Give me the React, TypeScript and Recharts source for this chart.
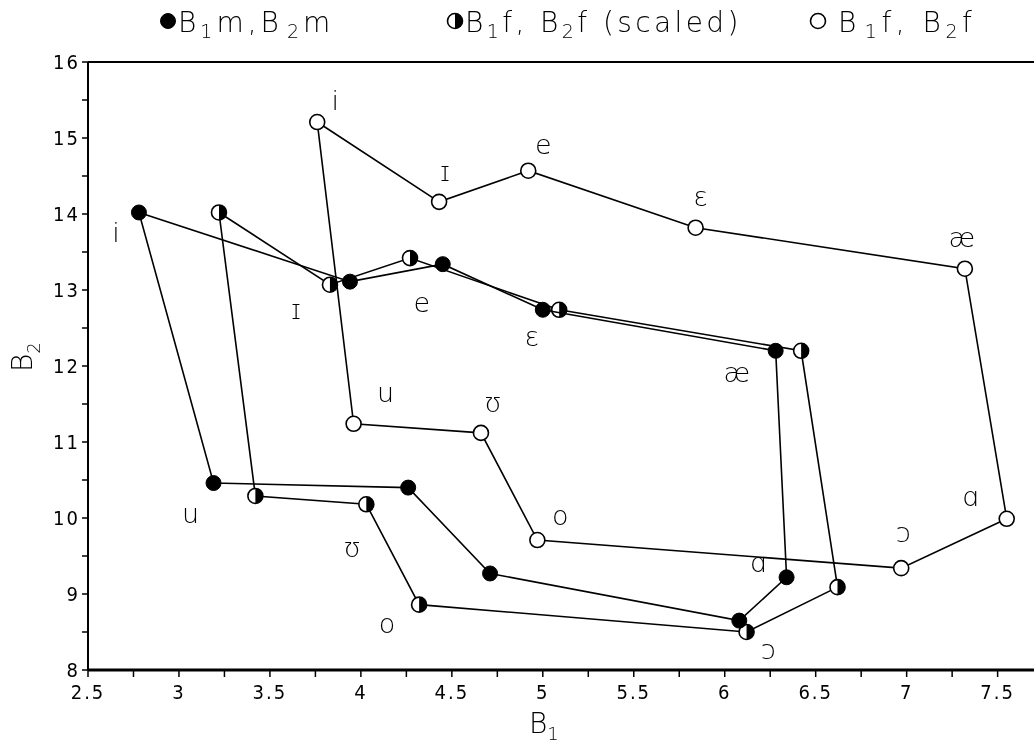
import React from 'react';
import { ScatterChart, Scatter, XAxis, YAxis, ReferenceLine } from 'recharts';

// ---- data ----
const vowels = ['i', 'ɪ', 'e', 'ɛ', 'æ', 'ɑ', 'ɔ', 'o', 'ʊ', 'u'];
const b1Male = [2.78, 3.94, 4.45, 5.0, 6.28, 6.34, 6.08, 4.71, 4.26, 3.19];
const b2Male = [14.02, 13.11, 13.34, 12.74, 12.2, 9.22, 8.65, 9.27, 10.4, 10.46];
const b1FemScaled = [3.22, 3.83, 4.27, 5.09, 6.42, 6.62, 6.12, 4.32, 4.03, 3.42];
const b2FemScaled = [14.02, 13.07, 13.42, 12.74, 12.2, 9.09, 8.5, 8.86, 10.18, 10.29];
const b1Fem = [3.76, 4.43, 4.92, 5.84, 7.32, 7.55, 6.97, 4.97, 4.66, 3.96];
const b2Fem = [15.21, 14.16, 14.57, 13.82, 13.28, 9.99, 9.34, 9.71, 11.12, 11.24];

const xTicks = [2.5, 2.75, 3, 3.25, 3.5, 3.75, 4, 4.25, 4.5, 4.75, 5, 5.25, 5.5, 5.75, 6, 6.25, 6.5, 6.75, 7, 7.25, 7.5];
const yTicks = [8, 8.5, 9, 9.5, 10, 10.5, 11, 11.5, 12, 12.5, 13, 13.5, 14, 14.5, 15, 15.5, 16];

// ---- label placement (pixel offsets from marker centre) ----
const maleLabelOffsets: [number, number][] = [
  [-23, 20], [-54, 28], [-21, 38], [-11, 27], [-39, 22],
  [-29, -15], [29, 29], [-103, 50], [-56, 60], [-23, 30],
];
const femLabelOffsets: [number, number][] = [
  [18, -22], [6, -30], [15, -26], [5, -31], [-3, -31],
  [-37, -22], [2, -36], [23, -25], [12, -30], [32, -31],
];

const FONT = "'DejaVu Sans', 'Liberation Sans', sans-serif";
const NARROW = "'DejaVu Sans Condensed', 'Liberation Sans Narrow', 'DejaVu Sans', sans-serif";
const R = 7.5;

type Pt = { x: number; y: number; v: string; i: number; close?: boolean };

const makeSeries = (xs: number[], ys: number[]): Pt[] => {
  const pts: Pt[] = vowels.map((v, i) => ({ x: xs[i], y: ys[i], v, i }));
  return [...pts, { ...pts[0], close: true }];
};

const maleData = makeSeries(b1Male, b2Male);
const scaledData = makeSeries(b1FemScaled, b2FemScaled);
const femData = makeSeries(b1Fem, b2Fem);

const Marker = ({ kind, cx, cy }: { kind: string; cx: number; cy: number }) => {
  if (kind === 'filled') return <circle cx={cx} cy={cy} r={R} fill="#000" stroke="#000" strokeWidth={1} />;
  if (kind === 'open') return <circle cx={cx} cy={cy} r={R} fill="#fff" stroke="#000" strokeWidth={1.6} />;
  return (
    <g>
      <circle cx={cx} cy={cy} r={R} fill="#fff" stroke="#000" strokeWidth={1.6} />
      <path d={`M${cx},${cy - R} A${R},${R} 0 0,1 ${cx},${cy + R} Z`} fill="#000" />
    </g>
  );
};

const makeShape = (kind: string, offsets: [number, number][] | null) => (props: any) => {
  const { cx, cy, payload } = props;
  if (cx == null || cy == null || !payload || payload.close) return <g />;
  const off = offsets ? offsets[payload.i] : null;
  return (
    <g>
      <Marker kind={kind} cx={cx} cy={cy} />
      {off && (
        <text
          x={cx + off[0]}
          y={cy + off[1]}
          textAnchor="middle"
          dominantBaseline="central"
          fontFamily={FONT}
          fontWeight={300}
          fontSize={27}
          fill="#000"
        >
          {payload.v}
        </text>
      )}
    </g>
  );
};

const fmt = (v: number) => (Number.isInteger(v * 2) ? String(v) : '');
const fmtY = (v: number) => (Number.isInteger(v) ? String(v) : '');

const lineStyle = { stroke: '#000', strokeWidth: 1.6 };
const tickStyle = { fill: '#000', fontSize: 20, fontFamily: NARROW, letterSpacing: 2 };
const legendText = { fontFamily: FONT, fontWeight: 300, fontSize: 28, fill: '#000' };

export default function App() {
  return (
    <div
      style={{
        position: 'absolute',
        left: 0,
        top: 0,
        width: 1035,
        height: 748,
        background: '#fff',
        filter: 'grayscale(1)',
      }}
    >
      <ScatterChart width={1035} height={748} margin={{ top: 62, right: 1, bottom: 0, left: 0 }}>
        <XAxis
          type="number"
          dataKey="x"
          domain={[2.5, 7.7]}
          ticks={xTicks}
          interval={0}
          tickFormatter={fmt}
          allowDataOverflow
          height={78}
          tickSize={7}
          tickMargin={8}
          axisLine={{ stroke: '#000', strokeWidth: 3 }}
          tickLine={{ stroke: '#000', strokeWidth: 1.5 }}
          tick={tickStyle}
        />
        <YAxis
          type="number"
          dataKey="y"
          domain={[8, 16]}
          ticks={yTicks}
          interval={0}
          tickFormatter={fmtY}
          allowDataOverflow
          width={88}
          tickSize={6}
          tickMargin={2}
          axisLine={{ stroke: '#000', strokeWidth: 2 }}
          tickLine={{ stroke: '#000', strokeWidth: 1.5 }}
          tick={tickStyle}
        />
        <ReferenceLine y={16} stroke="#000" strokeWidth={2} />
        <Scatter
          name="B1f, B2f"
          data={femData}
          line={lineStyle}
          lineType="joint"
          shape={makeShape('open', femLabelOffsets)}
          isAnimationActive={false}
        />
        <Scatter
          name="B1f, B2f (scaled)"
          data={scaledData}
          line={lineStyle}
          lineType="joint"
          shape={makeShape('half', null)}
          isAnimationActive={false}
        />
        <Scatter
          name="B1m, B2m"
          data={maleData}
          line={lineStyle}
          lineType="joint"
          shape={makeShape('filled', maleLabelOffsets)}
          isAnimationActive={false}
        />
      </ScatterChart>
      <svg
        width={1035}
        height={748}
        style={{ position: 'absolute', left: 0, top: 0, pointerEvents: 'none' }}
      >
        {/* legend */}
        <Marker kind="filled" cx={168} cy={21} />
        <text x={178} y={32} {...legendText} letterSpacing={4}>
          B<tspan dy={6} fontSize={19}>1</tspan>
          <tspan dy={-6}>m,B</tspan>
          <tspan dy={6} dx={4} fontSize={19}>2</tspan>
          <tspan dy={-6}>m</tspan>
        </text>
        <Marker kind="half" cx={455} cy={21} />
        <text x={465} y={32} {...legendText} letterSpacing={3.4}>
          B<tspan dy={6} fontSize={19}>1</tspan>
          <tspan dy={-6}>f, B</tspan>
          <tspan dy={6} fontSize={19}>2</tspan>
          <tspan dy={-6}>f (scaled)</tspan>
        </text>
        <Marker kind="open" cx={818} cy={21} />
        <text x={838} y={32} {...legendText} letterSpacing={4.5}>
          B<tspan dy={6} dx={4} fontSize={19}>1</tspan>
          <tspan dy={-6}>f, B</tspan>
          <tspan dy={6} fontSize={19}>2</tspan>
          <tspan dy={-6}>f</tspan>
        </text>
        {/* axis titles */}
        <text x={529} y={733} fontFamily={FONT} fontWeight={300} fontSize={28} fill="#000">
          B<tspan dy={7} fontSize={18}>1</tspan>
        </text>
        <text
          x={0}
          y={0}
          transform="translate(32,372) rotate(-90)"
          fontFamily={FONT}
          fontWeight={300}
          fontSize={28}
          fill="#000"
        >
          B<tspan dy={8} fontSize={18}>2</tspan>
        </text>
      </svg>
    </div>
  );
}
